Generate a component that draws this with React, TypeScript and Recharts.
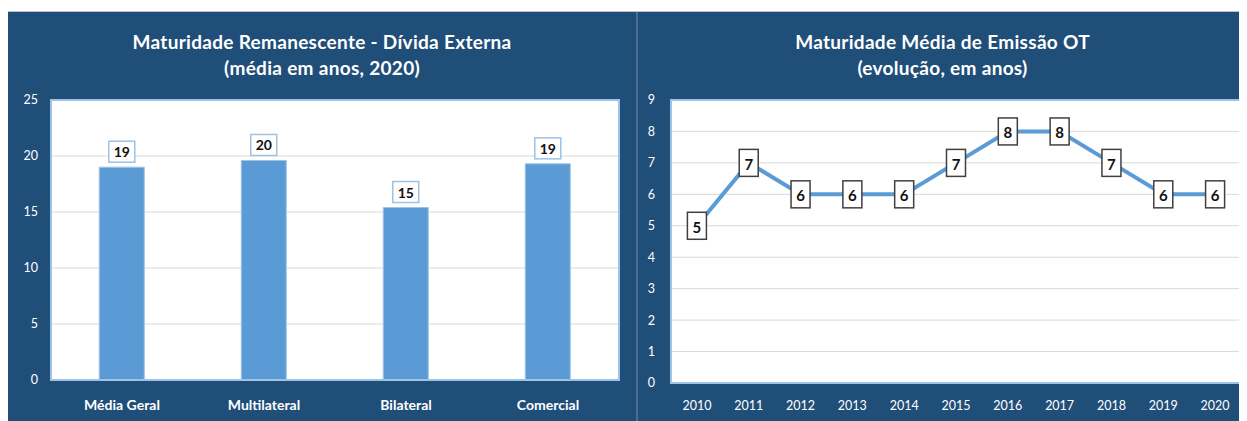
import React from 'react';
import {
  BarChart,
  Bar,
  LineChart,
  Line,
  XAxis,
  YAxis,
  CartesianGrid,
  LabelList,
  ReferenceArea,
} from 'recharts';

// left panel
const categories = ['Média Geral', 'Multilateral', 'Bilateral', 'Comercial'];
const maturity = [19.0, 19.6, 15.4, 19.3];
const barTicks = [0, 5, 10, 15, 20, 25];

// right panel
const years = ['2010', '2011', '2012', '2013', '2014', '2015', '2016', '2017', '2018', '2019', '2020'];
const emission = [5, 7, 6, 6, 6, 7, 8, 8, 7, 6, 6];
const lineTicks = [0, 1, 2, 3, 4, 5, 6, 7, 8, 9];

const NAVY = '#1f4e79';
const BLUE = '#5b9bd5';
const FONT = 'Lato, "Open Sans", sans-serif';

const barData = categories.map((name, i) => ({ name, value: maturity[i] }));
const lineData = years.map((year, i) => ({ year, value: emission[i] }));

const BarValueLabel = (props: any) => {
  const vb = props.viewBox || {};
  const x = props.x ?? vb.x;
  const y = props.y ?? vb.y;
  const width = props.width ?? vb.width ?? 0;
  const cx = x + width / 2;
  const w = 26;
  const h = 21;
  return (
    <g>
      <rect x={cx - w / 2} y={y - h - 5} width={w} height={h} fill="#fff" stroke="#9dc3e6" strokeWidth={1.5} />
      <text
        x={cx}
        y={y - 5 - h / 2}
        textAnchor="middle"
        dominantBaseline="central"
        fontFamily={FONT}
        fontWeight={700}
        fontSize={14}
        fill="#111"
      >
        {Math.round(props.value)}
      </text>
    </g>
  );
};

const PointLabel = (props: any) => {
  const vb = props.viewBox || {};
  const x = props.x ?? vb.x;
  const y = props.y ?? vb.y;
  const w = 19;
  const h = 27;
  return (
    <g>
      <rect x={x - w / 2} y={y - h / 2} width={w} height={h} fill="#fff" stroke="#404040" strokeWidth={1.5} />
      <text
        x={x}
        y={y + 1}
        textAnchor="middle"
        dominantBaseline="central"
        fontFamily={FONT}
        fontWeight={700}
        fontSize={15}
        fill="#111"
      >
        {props.value}
      </text>
    </g>
  );
};

const titleStyle: React.CSSProperties = {
  position: 'absolute',
  top: 17,
  left: 0,
  right: 0,
  textAlign: 'center',
  color: '#fff',
  fontFamily: FONT,
  fontWeight: 700,
  fontSize: 19,
  letterSpacing: 0.3,
  lineHeight: '26px',
  zIndex: 1,
};

export default function App() {
  return (
    <div
      style={{
        marginTop: 3,
        width: 1239,
        height: 409,
        display: 'flex',
        background: NAVY,
        borderTop: '1px solid #b8c2cc',
      }}
    >
      <div style={{ position: 'relative', width: 628, height: 409 }}>
        <div style={titleStyle}>
          Maturidade Remanescente - Dívida Externa
          <br />
          (média em anos, 2020)
        </div>
        <BarChart
          width={628}
          height={409}
          data={barData}
          margin={{ top: 88, right: 17, bottom: 0, left: 0 }}
          barCategoryGap="34%"
        >
          <CartesianGrid vertical={false} stroke="#d9d9d9" fill="#fff" />
          <ReferenceArea y1={0} y2={25} fill="none" stroke="#9dc3e6" strokeWidth={2} />
          <XAxis
            dataKey="name"
            height={41}
            axisLine={{ stroke: '#9dc3e6', strokeWidth: 2 }}
            tickLine={false}
            tickMargin={14}
            tick={{ fill: '#fff', fontSize: 14, fontWeight: 700, fontFamily: FONT }}
          />
          <YAxis
            width={43}
            domain={[0, 25]}
            ticks={barTicks}
            axisLine={false}
            tickLine={false}
            tickMargin={7}
            tick={{ fill: '#fff', fontSize: 12.5, fontFamily: FONT }}
          />
          <Bar dataKey="value" fill={BLUE} stroke="#9dc3e6" strokeWidth={1} isAnimationActive={false}>
            <LabelList dataKey="value" content={BarValueLabel} />
          </Bar>
        </BarChart>
      </div>
      <div style={{ width: 2, height: 409, background: '#4a6d91' }} />
      <div style={{ position: 'relative', width: 609, height: 409 }}>
        <div style={titleStyle}>
          Maturidade Média de Emissão OT
          <br />
          (evolução, em anos)
        </div>
        <LineChart
          width={609}
          height={409}
          data={lineData}
          margin={{ top: 88, right: 6, bottom: 0, left: 0 }}
        >
          <CartesianGrid vertical={false} stroke="#d9d9d9" fill="#fff" />
          <ReferenceArea y1={0} y2={9} fill="none" stroke="#9dc3e6" strokeWidth={2} />
          <XAxis
            dataKey="year"
            scale="band"
            height={38}
            axisLine={{ stroke: '#9dc3e6', strokeWidth: 2 }}
            tickLine={false}
            tickMargin={12}
            tick={{ fill: '#fff', fontSize: 12.5, fontFamily: FONT }}
          />
          <YAxis
            width={33}
            domain={[0, 9]}
            ticks={lineTicks}
            axisLine={false}
            tickLine={false}
            tickMargin={10}
            tick={{ fill: '#fff', fontSize: 12.5, fontFamily: FONT }}
          />
          <Line
            type="linear"
            dataKey="value"
            stroke={BLUE}
            strokeWidth={4}
            dot={false}
            isAnimationActive={false}
          >
            <LabelList dataKey="value" content={PointLabel} />
          </Line>
        </LineChart>
      </div>
    </div>
  );
}
